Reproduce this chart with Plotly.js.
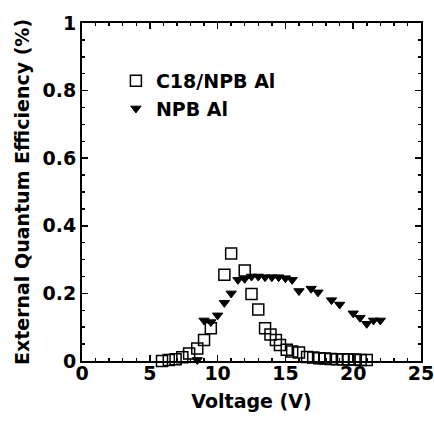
<!DOCTYPE html>
<html>
<head>
<meta charset="utf-8">
<script src="https://cdn.plot.ly/plotly-3.0.1.min.js"></script>
<style>html,body{margin:0;padding:0;background:#fff;}#chart{width:434px;height:422px;}</style>
</head>
<body>
<div id="chart"></div>
<script>
// C18/NPB Al (open squares)
var c18Voltage = [5.9, 6.4, 6.9, 7.4, 7.9, 8.5, 9.0, 9.5, 10.5, 11.0, 12.0, 12.5, 13.0, 13.5, 13.9, 14.3, 14.6, 15.1, 15.5, 16.0, 16.6, 17.05, 17.5, 17.9, 18.35, 18.8, 19.25, 19.65, 20.1, 20.55, 21.0];
var c18EQE = [0.0, 0.003, 0.005, 0.011, 0.022, 0.037, 0.062, 0.097, 0.255, 0.318, 0.268, 0.198, 0.152, 0.097, 0.078, 0.062, 0.047, 0.033, 0.028, 0.025, 0.012, 0.01, 0.008, 0.007, 0.006, 0.005, 0.005, 0.004, 0.004, 0.003, 0.003];
// NPB Al (filled down triangles)
var npbVoltage = [8.5, 9.0, 9.5, 10.0, 10.5, 11.0, 11.5, 12.0, 12.5, 13.0, 13.5, 14.0, 14.5, 15.0, 15.5, 16.0, 16.9, 17.4, 18.4, 19.0, 20.0, 20.5, 21.0, 21.5, 22.0];
var npbEQE = [0.003, 0.12, 0.115, 0.135, 0.172, 0.2, 0.24, 0.243, 0.25, 0.25, 0.248, 0.248, 0.248, 0.245, 0.24, 0.207, 0.214, 0.203, 0.18, 0.167, 0.141, 0.128, 0.11, 0.12, 0.12];

var seriesNames = ['C18/NPB Al', 'NPB Al'];
var xTicks = [0, 5, 10, 15, 20, 25];
var xTickLabels = ['0', '5', '10', '15', '20', '25'];
var yTicks = [0, 0.2, 0.4, 0.6, 0.8, 1];
var yTickLabels = ['0', '0.2', '0.4', '0.6', '0.8', '1'];

var FONT = 'DejaVu Sans, Liberation Sans, Arial, sans-serif';

var traces = [
  {
    x: c18Voltage, y: c18EQE, name: seriesNames[0], type: 'scatter', mode: 'markers',
    marker: {symbol: 'square-open', size: 11, color: '#000', line: {width: 1.5, color: '#000'}},
    cliponaxis: false
  },
  {
    x: npbVoltage, y: npbEQE, name: seriesNames[1], type: 'scatter', mode: 'markers',
    marker: {symbol: 'triangle-down', size: 9, color: '#000', line: {width: 1, color: '#000'}},
    cliponaxis: false
  }
];

var axisCommon = {
  showline: true, linewidth: 2, linecolor: '#000', mirror: 'allticks',
  ticks: 'inside', ticklen: 6, tickwidth: 1.5, tickcolor: '#000',
  showgrid: false, zeroline: false, ticklabeloverflow: 'allow',
  tickfont: {family: FONT, size: 19, color: '#000', weight: 'bold'}
};

var layout = {
  width: 434, height: 422,
  margin: {l: 82, r: 13, t: 23, b: 61},
  paper_bgcolor: '#fff', plot_bgcolor: '#fff',
  showlegend: true,
  legend: {
    x: 0.1, y: 0.885, xanchor: 'left', yanchor: 'top',
    bgcolor: 'rgba(0,0,0,0)', borderwidth: 0,
    font: {family: FONT, size: 19, color: '#000', weight: 'bold'},
    itemwidth: 30, tracegroupgap: 0
  },
  xaxis: Object.assign({}, axisCommon, {
    range: [-0.001, 25.001], tickmode: 'array', tickvals: xTicks, ticktext: xTickLabels,
    ticklabelstandoff: -6,
    minor: {dtick: 1, ticks: 'inside', ticklen: 3, tickwidth: 1.5, tickcolor: '#000', showgrid: false},
    title: {text: 'Voltage (V)', font: {family: FONT, size: 19, color: '#000', weight: 'bold'}, standoff: 12}
  }),
  yaxis: Object.assign({}, axisCommon, {
    range: [-0.0001, 1.0001], tickmode: 'array', tickvals: yTicks, ticktext: yTickLabels,
    minor: {dtick: 0.05, ticks: 'inside', ticklen: 3, tickwidth: 1.5, tickcolor: '#000', showgrid: false},
    title: {text: 'External Quantum Efficiency (%)', font: {family: FONT, size: 19, color: '#000', weight: 'bold'}, standoff: 8}
  })
};

Plotly.newPlot('chart', traces, layout, {staticPlot: true, displayModeBar: false});
</script>
</body>
</html>
